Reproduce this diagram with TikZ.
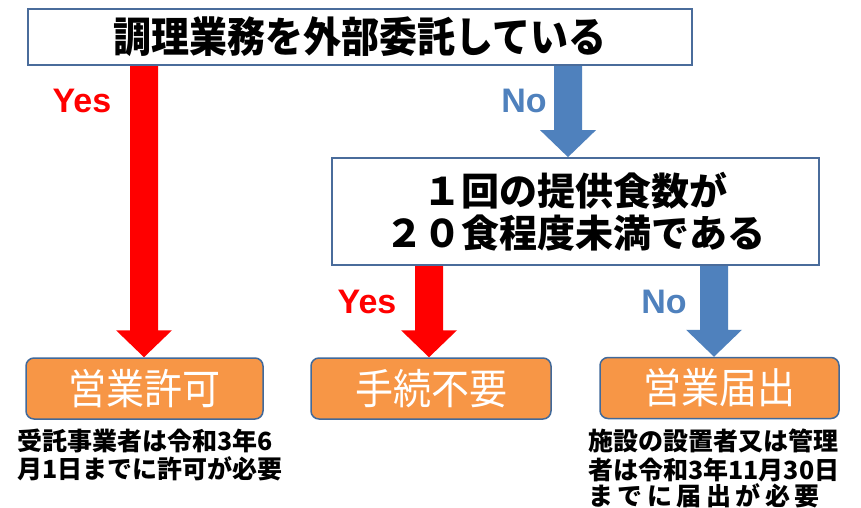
\documentclass[tikz,border=0pt]{standalone}
\usepackage{fontspec}
\usepackage{graphicx}
\setmainfont{Liberation Sans}
\newfontfamily\jp{Noto Sans CJK JP}
\usetikzlibrary{calc,backgrounds}
\definecolor{arrred}{HTML}{FF0000}
\definecolor{arrblue}{HTML}{4F81BD}
\definecolor{boxorange}{HTML}{F79646}
\definecolor{boxline}{HTML}{41699A}
\definecolor{qline}{HTML}{4A6C9B}
\tikzset{
  qbox/.style={draw=qline, line width=1.8pt, fill=white, inner sep=0pt, align=center,
    font=\jp\bfseries\fontsize{38}{46}\selectfont},
  resbox/.style={draw=boxline, line width=1.5pt, fill=boxorange, rounded corners=8pt,
    inner sep=0pt, minimum height=61pt, text=white, font=\jp\fontsize{38}{40}\selectfont},
  capline/.style={anchor=base west, inner sep=0pt, font=\jp\bfseries\fontsize{25}{29}\selectfont},
  yeslbl/.style={anchor=base, inner sep=0pt, text=arrred, font=\bfseries\fontsize{34}{36}\selectfont},
  nolbl/.style={anchor=base, inner sep=0pt, text=arrblue, font=\bfseries\fontsize{34}{36}\selectfont},
}
\newcommand\blockarrow[3]{%
  \fill[#1] let \p1=(#2), \p2=(#3) in
    (\x1-14pt,\y1) -- (\x1+14pt,\y1) -- (\x1+14pt,\y2+27pt) -- (\x1+28pt,\y2+27pt)
    -- (\x1,\y2) -- (\x1-28pt,\y2+27pt) -- (\x1-14pt,\y2+27pt) -- cycle;}
\newcommand\tallx[1]{\scalebox{1}[1.1]{#1}}
\newcommand\gp{\hspace{4.5pt}}
\begin{document}
\begin{tikzpicture}[x=1pt,y=-1pt]
\useasboundingbox (0,0) rectangle (861,508);
% question boxes
\node[qbox, minimum width=664pt, minimum height=56pt] (top) at (360,37) {\tallx{調理業務を外部委託している}};
\node[qbox, minimum width=487pt, minimum height=107pt] (mid) at (575.5,211.5) {\raisebox{-4pt}{１回の提供食数が}\\２０食程度未満である};
% result boxes
\node[resbox, minimum width=237pt] (permit) at (144.5,388.5) {\tallx{営業許可}};
\node[resbox, minimum width=240pt] (noproc) at (431,388.5) {\tallx{手続不要}};
\node[resbox, minimum width=239pt] (notify) at (719.5,388) {\tallx{営業届出}};
% arrow end points
\coordinate (a1s) at (top.south -| 144,0);
\coordinate (a1e) at (permit.north -| 144,0);
\coordinate (a2s) at (top.south -| 568,0);
\coordinate (a2e) at (mid.north -| 568,0);
\coordinate (a3s) at (mid.south -| 429,0);
\coordinate (a3e) at (noproc.north -| 429,0);
\coordinate (a4s) at (mid.south -| 714,0);
\coordinate (a4e) at (notify.north -| 714,0);
\begin{scope}[on background layer]
  \fill[white] (0,0) rectangle (861,508);
  \blockarrow{arrred}{a1s}{a1e}
  \blockarrow{arrblue}{a2s}{a2e}
  \blockarrow{arrred}{a3s}{a3e}
  \blockarrow{arrblue}{a4s}{a4e}
\end{scope}
% branch labels
\node[yeslbl] (y1) at (82,113) {Yes};
\node[nolbl] (n1) at (524,113) {No};
\node[yeslbl] (y2) at (367,313) {Yes};
\node[nolbl] (n2) at (664,313) {No};
% captions
\node[capline] (c1a) at (17,450) {受託事業者は令和3年6};
\node[capline] (c1b) at (17,478) {月1日までに許可が必要};
\node[capline] (c2a) at (588,450) {施設の設置者又は管理};
\node[capline] (c2b) at (588,479) {者は令和3年11月30日};
\node[capline] (c2c) at (588,505) {ま\gp で\gp に\gp 届\gp 出\gp が\gp 必\gp 要};
\end{tikzpicture}
\end{document}
